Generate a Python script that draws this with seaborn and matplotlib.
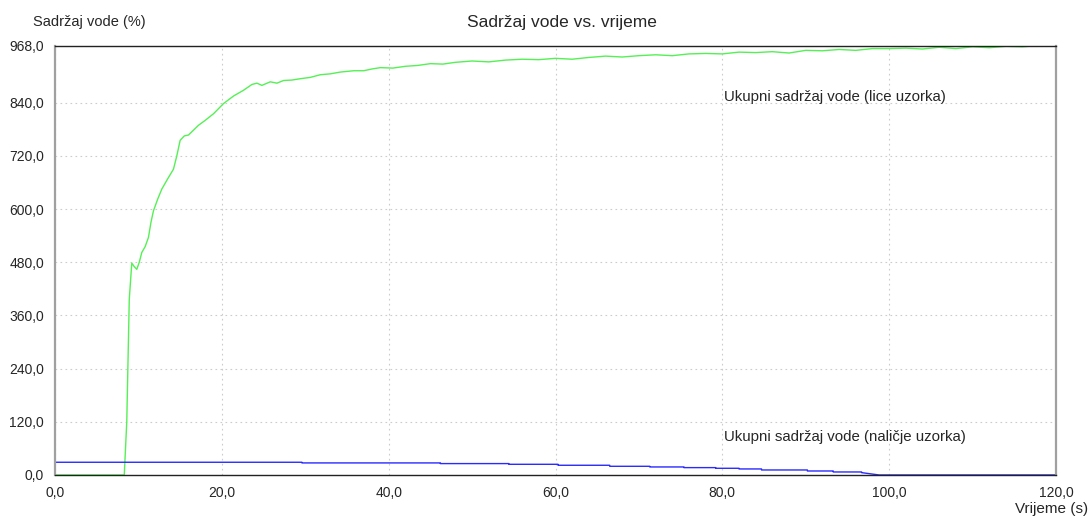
import matplotlib
matplotlib.use("Agg")
import matplotlib.pyplot as plt
import seaborn as sns
import pandas as pd
from matplotlib.ticker import FixedLocator, FuncFormatter

# water content of the sample face (green)
face_time = [0.0, 8.3, 8.6, 8.9, 9.2, 9.5, 9.8, 10.1, 10.4, 10.8, 11.2, 11.5, 11.8,
             12.3, 12.8, 13.5, 14.2, 14.6, 15.0, 15.5, 16.0, 16.6, 17.2, 18.0, 19.0,
             20.2, 21.4, 22.6, 23.6, 24.2, 24.8, 25.8, 26.6, 27.4, 28.4, 29.4, 30.6,
             31.8, 33.0, 34.2, 35.8, 37.0, 38.0, 39.0, 40.5, 42.0, 43.5, 45.0, 46.5,
             48.0, 50.0, 52.0, 54.0, 56.0, 58.0, 60.0, 62.0, 64.0, 66.0, 68.0, 70.0,
             72.0, 74.0, 76.0, 78.0, 80.0, 82.0, 84.0, 86.0, 88.0, 90.0, 92.0, 94.0,
             96.0, 98.0, 100.0, 102.0, 104.0, 106.0, 108.0, 110.0, 112.0, 114.0,
             116.0, 118.0, 120.0]
face_water = [0, 0, 120, 396, 478, 470, 464, 480, 502, 515, 536, 570, 596,
              622, 645, 668, 690, 720, 755, 765, 767, 778, 789, 800, 815,
              838, 855, 868, 881, 884, 879, 887, 884, 890, 891, 894, 897,
              903, 905, 909, 912, 912, 916, 919, 918, 922, 924, 928, 927,
              931, 934, 932, 936, 938, 937, 940, 938, 942, 945, 943, 946,
              948, 946, 950, 951, 950, 954, 953, 955, 952, 958, 957, 960,
              958, 962, 962, 963, 961, 965, 962, 966, 964, 967,
              966, 969, 968]

# water content of the sample back (blue)
back_time = [0.0, 29.6, 29.6, 46.2, 46.2, 54.4, 54.4, 60.3, 60.3, 66.5, 66.5,
             71.3, 71.3, 75.4, 75.4, 79.2, 79.2, 82.0, 82.0, 84.7, 84.7, 90.2,
             90.2, 93.3, 93.3, 96.7, 96.7, 98.8, 120.0]
back_water = [28.7, 28.7, 27.2, 27.2, 25.7, 25.7, 24.1, 24.1, 21.9, 21.9, 19.6,
              19.6, 18.1, 18.1, 16.6, 16.6, 15.1, 15.1, 13.6, 13.6, 11.3, 11.3,
              9.0, 9.0, 6.8, 6.8, 5.3, 0.0, 0.0]

y_ticks = [0, 120, 240, 360, 480, 600, 720, 840, 968]
x_ticks = [0, 20, 40, 60, 80, 100, 120]

sns.set_style("white")
plt.rcParams['font.family'] = ['Liberation Sans', 'DejaVu Sans']

fig = plt.figure(figsize=(10.92, 5.16), dpi=100)
ax = fig.add_axes([0.0504, 0.0795, 0.9166, 0.8315])

face_df = pd.DataFrame({"t": face_time, "w": face_water})
back_df = pd.DataFrame({"t": back_time, "w": back_water})
sns.lineplot(data=face_df, x="t", y="w", ax=ax, color="#55f055", linewidth=1.0,
             sort=False, estimator=None)
sns.lineplot(data=back_df, x="t", y="w", ax=ax, color="#2a2aff", linewidth=1.0,
             sort=False, estimator=None)

ax.set_xlim(0, 120)
ax.set_ylim(0, 968)
ax.xaxis.set_major_locator(FixedLocator(x_ticks))
ax.yaxis.set_major_locator(FixedLocator(y_ticks))
fmt = FuncFormatter(lambda v, p: f"{v:.1f}".replace(".", ","))
ax.xaxis.set_major_formatter(fmt)
ax.yaxis.set_major_formatter(fmt)
ax.tick_params(axis="both", labelsize=10, length=3, width=0.8, color="#6a7fb0", pad=5)
ax.grid(True, linestyle=(0, (1.5, 3)), color="#cccccc", linewidth=0.8)

ax.set_xlabel("")
ax.set_ylabel("")
for side in ["top", "bottom"]:
    ax.spines[side].set_color("#222222")
    ax.spines[side].set_linewidth(1.0)
for side in ["left", "right"]:
    ax.spines[side].set_color("#a0a0a0")
    ax.spines[side].set_linewidth(1.6)

fig.text(0.03, 0.957, "Sadržaj vode (%)", fontsize=10.5, ha="left", va="center")
fig.text(0.515, 0.957, "Sadržaj vode vs. vrijeme", fontsize=12.5, ha="center", va="center")
fig.text(0.996, 0.014, "Vrijeme (s)", fontsize=11, ha="right", va="center")

ax.text(80.2, 853, "Ukupni sadržaj vode (lice uzorka)", fontsize=10.8, ha="left", va="center")
ax.text(80.2, 86, "Ukupni sadržaj vode (naličje uzorka)", fontsize=10.8, ha="left", va="center")

fig.savefig("out.png", dpi=100)
